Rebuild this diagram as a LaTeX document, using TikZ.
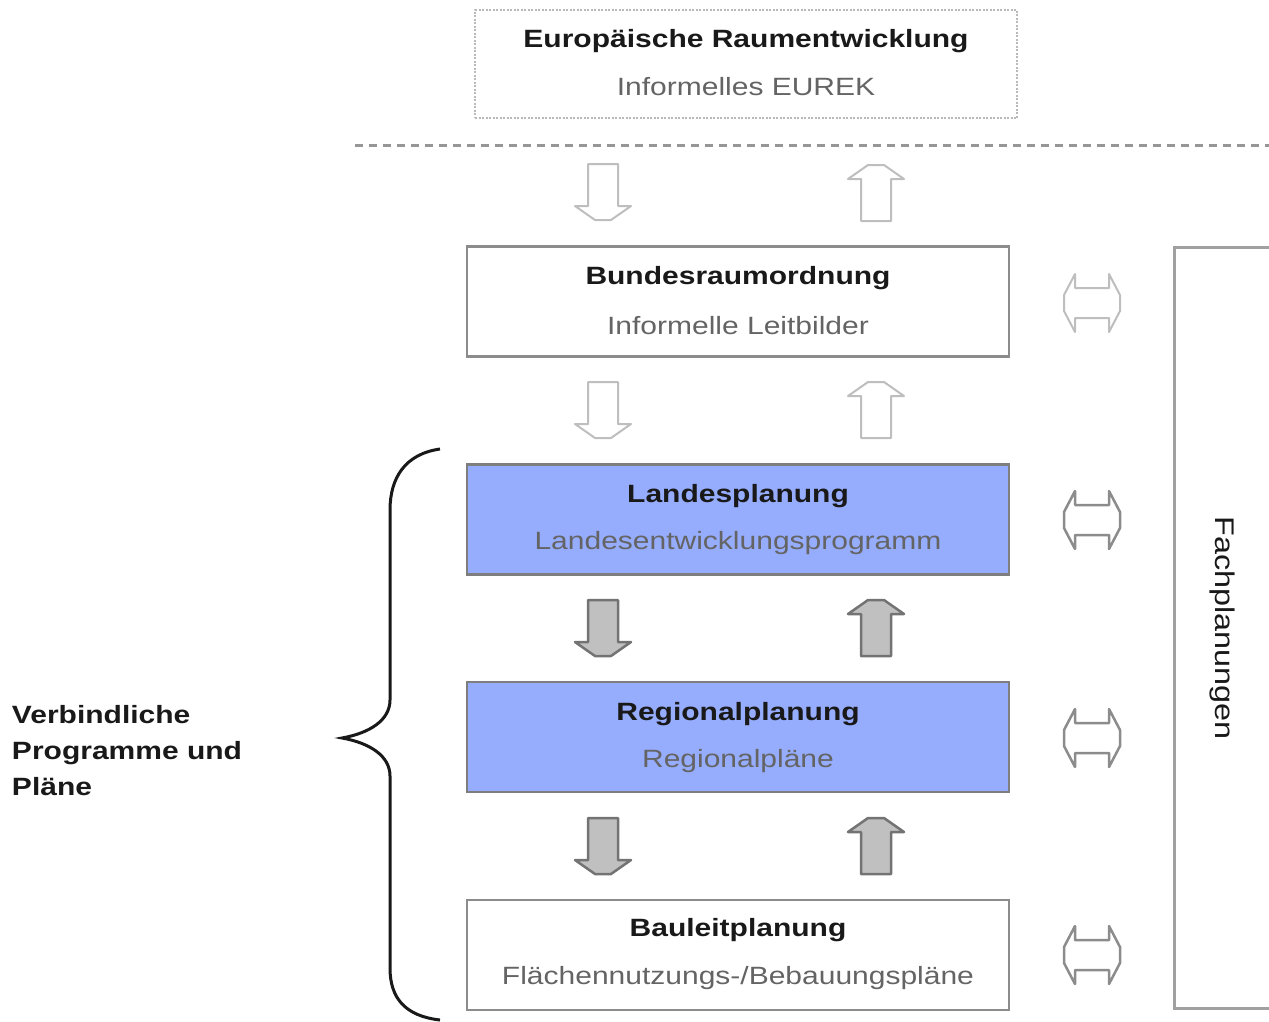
\documentclass[tikz,border=0pt]{standalone}
\usepackage{fontspec}
\setmainfont{Liberation Sans}[FakeStretch=1.2]
\begin{document}
\begin{tikzpicture}[x=1pt,y=-1pt,
  every node/.style={inner sep=0pt,outer sep=0pt},
  box/.style={draw=boxgray,line width=2.5pt,minimum width=542pt,minimum height=110pt},
  bluebox/.style={box,fill=planblue,draw=boxgray!90!black},
  title/.style={font=\fontsize{25}{30}\selectfont\bfseries,text=titlecol},
  sub/.style={font=\fontsize{25}{30}\selectfont,text=subcol},
  lightarrow/.style={draw=lightgray,fill=white,line width=2pt,line join=round},
  darkarrow/.style={draw=darkgray,fill=arrowfill,line width=2.5pt,line join=round},
  midarrow/.style={draw=midgray,fill=white,line width=2.5pt,line join=round},
  dnarrow/.pic={\path[pic actions] (-15,-28) -- (15,-28) -- (15,14) -- (28,14) -- (8,28) -- (-8,28) -- (-28,14) -- (-15,14) -- cycle;},
  uparrow/.pic={\path[pic actions] (-15,28) -- (15,28) -- (15,-14) -- (28,-14) -- (8,-28) -- (-8,-28) -- (-28,-14) -- (-15,-14) -- cycle;},
  lrarrow/.pic={\path[pic actions] (-17,-15) -- (17,-15) -- (17,-29) -- (28,-8) -- (28,8) -- (17,29) -- (17,15) -- (-17,15) -- (-17,29) -- (-28,8) -- (-28,-8) -- (-17,-29) -- cycle;}
]
\definecolor{boxgray}{RGB}{140,140,140}
\definecolor{planblue}{RGB}{150,172,252}
\definecolor{titlecol}{RGB}{25,25,25}
\definecolor{subcol}{RGB}{100,100,100}
\definecolor{lightgray}{RGB}{190,190,190}
\definecolor{darkgray}{RGB}{115,115,115}
\definecolor{midgray}{RGB}{140,140,140}
\definecolor{arrowfill}{RGB}{192,192,192}
\definecolor{dashcol}{RGB}{150,150,150}
\definecolor{eurekcol}{RGB}{185,185,185}
\definecolor{fachcol}{RGB}{160,160,160}

\useasboundingbox (0,0) rectangle (1269,1021);

% EUREK box
\node[draw=eurekcol,line width=2pt,dash pattern=on 2pt off 1.5pt,minimum width=542pt,minimum height=108pt] (eu) at (746,64) {};
\node[title] (eut) at ([yshift=23pt]eu.center) {Europäische Raumentwicklung};
\node[sub] (eus) at ([yshift=-23pt]eu.center) {Informelles EUREK};

% dashed separator
\coordinate (dl) at (355,145);
\coordinate (dr) at (1269,145);
\draw[dashcol,line width=3pt,dash pattern=on 8pt off 6pt] (dl) -- (dr);

% main boxes
\node[box] (bund) at (738,301.5) {};
\node[title] (bundt) at ([yshift=23pt]bund.center) {Bundesraumordnung};
\node[sub] (bunds) at ([yshift=-24pt]bund.center) {Informelle Leitbilder};

\node[bluebox] (land) at (738,519.5) {};
\node[title] (landt) at ([yshift=23pt]land.center) {Landesplanung};
\node[sub] (lands) at ([yshift=-24pt]land.center) {Landesentwicklungsprogramm};

\node[bluebox] (reg) at (738,737) {};
\node[title] (regt) at ([yshift=23pt]reg.center) {Regionalplanung};
\node[sub] (regs) at ([yshift=-24pt]reg.center) {Regionalpläne};

\node[box] (bau) at (738,955) {};
\node[title] (baut) at ([yshift=25pt]bau.center) {Bauleitplanung};
\node[sub] (baus) at ([yshift=-23pt]bau.center) {Flächennutzungs-/Bebauungspläne};

% vertical block arrows
\pic[lightarrow] at (603,192) {dnarrow};
\pic[lightarrow] at (876,193) {uparrow};
\pic[lightarrow] at (603,410) {dnarrow};
\pic[lightarrow] at (876,410) {uparrow};
\pic[darkarrow] at (603,628) {dnarrow};
\pic[darkarrow] at (876,628) {uparrow};
\pic[darkarrow] at (603,846) {dnarrow};
\pic[darkarrow] at (876,846) {uparrow};

% horizontal double arrows
\pic[lightarrow] at (1092,303) {lrarrow};
\pic[midarrow] at (1092,520) {lrarrow};
\pic[midarrow] at (1092,738) {lrarrow};
\pic[midarrow] at (1092,955) {lrarrow};

% Fachplanungen box (cut by right edge)
\coordinate (ft) at (1269,247);
\coordinate (ftl) at (1174,247);
\coordinate (fbl) at (1174,1008);
\coordinate (fb) at (1269,1008);
\draw[fachcol,line width=3pt] (ft) -- (ftl) -- (fbl) -- (fb);
\node[font=\fontsize{27}{30}\selectfont,text=titlecol,rotate=-90] (fach) at (1222,628) {Fachplanungen};

% brace
\draw[black!90,line width=3pt] (440,449) .. controls (405,454) and (390,478) .. (390,510) -- (390,700)
  .. controls (390,720) and (370,733) .. (342,738)
  .. controls (370,743) and (390,756) .. (390,776) -- (390,968)
  .. controls (390,998) and (405,1016) .. (440,1020);

% left label
\node[anchor=west,align=left,font=\fontsize{25}{36}\selectfont\bfseries,text=titlecol] (verb) at (12,751) {Verbindliche\\Programme und\\Pläne};
\end{tikzpicture}
\end{document}
